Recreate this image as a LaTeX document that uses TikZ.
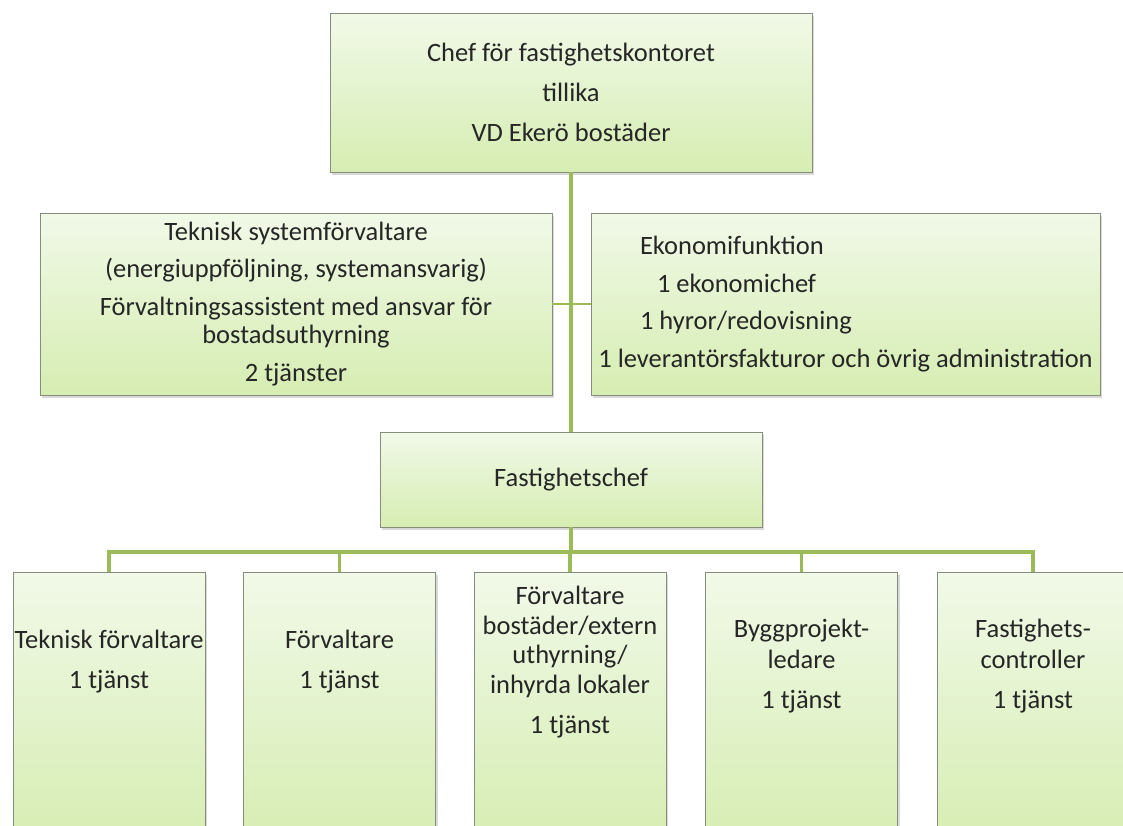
\documentclass[tikz,border=0pt]{standalone}
\usepackage{fontspec}
\setmainfont{Carlito}
\usetikzlibrary{positioning,shadows}

\definecolor{boxtop}{HTML}{F1F9E8}
\definecolor{boxbot}{HTML}{D6EDB2}
\definecolor{boxline}{HTML}{868C7E}
\definecolor{linkgreen}{HTML}{9BBB59}

\newcommand{\ekline}[2]{\makebox[497pt][l]{\hspace*{#1}#2}}

\begin{document}
\begin{tikzpicture}[x=1pt, y=-1pt,
    orgbox/.style={rectangle, draw=boxline, line width=0.9pt, top color=boxtop, bottom color=boxbot, inner sep=0pt, align=center, text=black!85, font=\fontsize{26.5}{31.5}\selectfont, drop shadow={shadow xshift=2pt, shadow yshift=-3pt, opacity=0.3}},
    staff/.style={orgbox, minimum height=182pt},
    unit/.style={orgbox, minimum width=192pt, minimum height=270pt, anchor=north},
    unittext/.style={align=center, text=black!85, font=\fontsize{26.5}{31.5}\selectfont, inner sep=0pt},
    link/.style={draw=linkgreen, line width=3.5pt}
]
    \useasboundingbox (0,0) rectangle (1123,825);
    \clip (0,0) rectangle (1123,825);

    \node[orgbox, minimum width=482pt, minimum height=159pt] (chef) at (571,92.5) {Chef för fastighetskontoret\\[8.5pt]tillika\\[8.5pt]VD Ekerö bostäder};
    \node[staff, minimum width=512pt] (teksys) at (296,304) {Teknisk systemförvaltare\\[6pt](energiuppföljning, systemansvarig)\\[6pt]Förvaltningsassistent med ansvar för\\[-3pt]bostadsuthyrning\\[6pt]2 tjänster};
    \node[staff, minimum width=509pt] (ekonomi) at (845.5,304) {\ekline{43pt}{Ekonomifunktion}\\[6pt]\ekline{60pt}{1 ekonomichef}\\[6pt]\ekline{43pt}{1 hyror/redovisning}\\[6pt]1 leverantörsfakturor och övrig administration};
    \node[orgbox, minimum width=382pt, minimum height=95pt] (fchef) at (571,479.5) {Fastighetschef};

    \node[unit] (tekf) at (109,572) {};
    \node[unit] (forv) at (339.5,572) {};
    \node[unit] (bost) at (570,572) {};
    \node[unit] (bygg) at (801.5,572) {};
    \node[unit] (ctrl) at (1033,572) {};
    \node[unittext] (tekft) at (109,662) {Teknisk förvaltare\\[8.5pt]1 tjänst};
    \node[unittext] (forvt) at (339.5,662) {Förvaltare\\[8.5pt]1 tjänst};
    \node[unittext] (bostt) at (570,662) {Förvaltare\\[-2pt]bostäder/extern\\[-2pt]uthyrning/\\[-2pt]inhyrda lokaler\\[8.5pt]1 tjänst};
    \node[unittext] (byggt) at (801.5,666) {Byggprojekt-\\ledare\\[8.5pt]1 tjänst};
    \node[unittext] (ctrlt) at (1033,666) {Fastighets-\\controller\\[8.5pt]1 tjänst};

    \coordinate (bus) at (571,552);
    \draw[link] (chef.south) -- (fchef.north);
    \draw[link, line width=2.5pt] (teksys.east) -- (ekonomi.west);
    \draw[link] (fchef.south) -- (bus);
    \draw[link] (tekf.north) |- (bus) -| (ctrl.north);
    \draw[link] (forv.north) -- (forv.north |- bus);
    \draw[link] (bost.north) -- (bost.north |- bus);
    \draw[link] (bygg.north) -- (bygg.north |- bus);
\end{tikzpicture}
\end{document}
